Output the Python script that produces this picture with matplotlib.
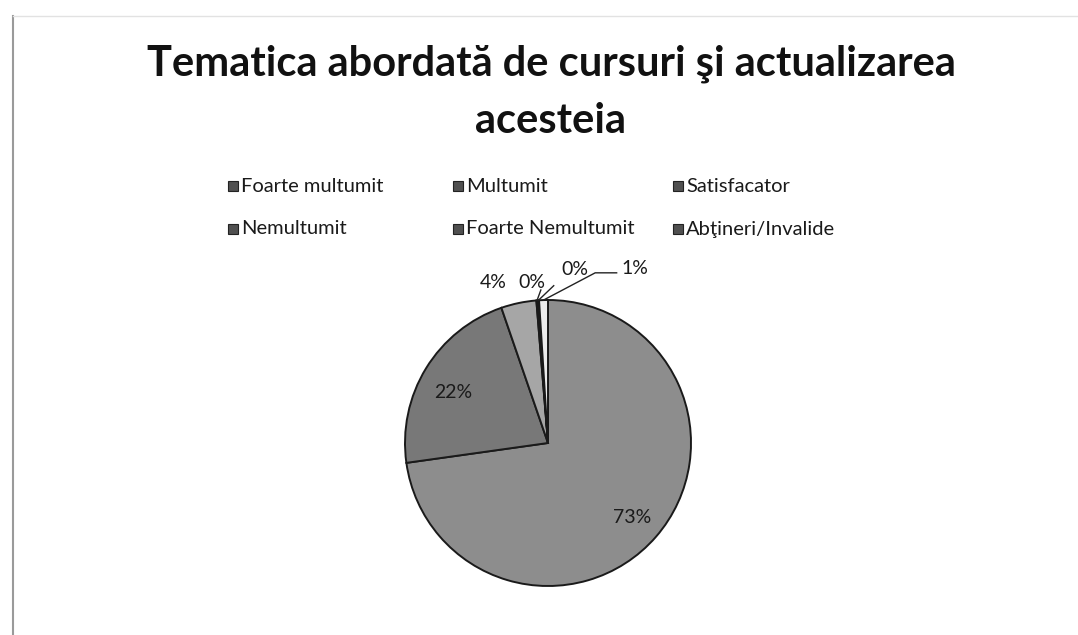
import matplotlib
matplotlib.use("Agg")
import matplotlib.pyplot as plt
from matplotlib.patches import Rectangle
import numpy as np

title = "Tematica abordată de cursuri şi actualizarea\nacesteia"
categories = ["Foarte multumit", "Multumit", "Satisfacator",
              "Nemultumit", "Foarte Nemultumit", "Abţineri/Invalide"]
values = [73, 22, 4, 0.15, 0.15, 1]
pct_labels = ["73%", "22%", "4%", "0%", "0%", "1%"]
colors = ["#8d8d8d", "#787878", "#a6a6a6", "#909090", "#6e6e6e", "#ececec"]

FONT = ["Lato", "DejaVu Sans"]
plt.rcParams["font.family"] = FONT

W, H = 1078, 635
fig = plt.figure(figsize=(W / 100, H / 100), dpi=100)
fig.patch.set_facecolor("white")

# faint scan frame
fig.add_artist(plt.Line2D([13 / W, 13 / W], [0, 1 - 16 / H], color="#9a9a9a", lw=1.5))
fig.add_artist(plt.Line2D([13 / W, 1], [1 - 16 / H, 1 - 16 / H], color="#e2e2e2", lw=1.0))

for line, ty in zip(title.split("\n"), [64, 121]):
    fig.text(551 / W, 1 - ty / H, line, ha="center", va="center",
             fontsize=30, fontweight="bold", color="#111111")

# pie axes
cx, cy, r = 548, 443, 143
ax = fig.add_axes([(cx - r) / W, (H - cy - r) / H, 2 * r / W, 2 * r / H])
wedges, _ = ax.pie(values, colors=colors, startangle=90, counterclock=False,
                   wedgeprops=dict(edgecolor="#1a1a1a", linewidth=1.4))
ax.set_xlim(-1, 1)
ax.set_ylim(-1, 1)
ax.set_aspect("equal")
ax.axis("off")

# label positions (in pie data units, radius = 1)
label_pos = [(0.59, -0.52), (-0.66, 0.35), (-0.38, 1.12),
             (-0.11, 1.12), (0.19, 1.21), (0.61, 1.22)]
for i, (w, lab) in enumerate(zip(wedges, pct_labels)):
    x, y = label_pos[i]
    ax.text(x, y, lab, ha="center", va="center", fontsize=14,
            color="#1a1a1a", clip_on=False)
    if i >= 3:
        ang = np.deg2rad((w.theta1 + w.theta2) / 2)
        px, py = np.cos(ang), np.sin(ang)
        if i == 3:
            ax.plot([px, -0.05], [py, 1.07], color="#222", lw=1, clip_on=False)
        elif i == 4:
            ax.plot([px, 0.04], [py, 1.10], color="#222", lw=1, clip_on=False)
        else:
            ax.plot([px, 0.33, 0.48], [py, 1.19, 1.19], color="#222", lw=1, clip_on=False)

# legend drawn manually (Excel-like fixed columns)
col_x = [228, 453, 673]
row_y = [186, 229]
for i, (cat, col) in enumerate(zip(categories, colors)):
    row, c = divmod(i, 3)
    x0, y0 = col_x[c], row_y[row]
    fig.add_artist(Rectangle((x0 / W, (H - y0 - 5) / H), 10 / W, 10 / H,
                             facecolor="#505050", edgecolor="#222222", lw=0.8,
                             transform=fig.transFigure))
    fig.text((x0 + 13) / W, 1 - y0 / H, cat, ha="left", va="center",
             fontsize=14.5, color="#1a1a1a")

fig.savefig("out.png", dpi=100, facecolor="white")
